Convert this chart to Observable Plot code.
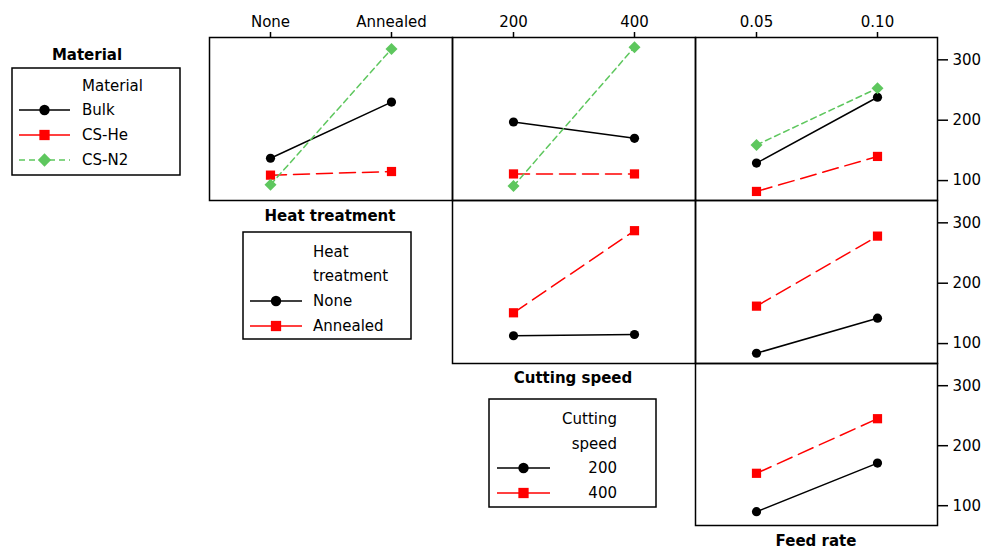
<!DOCTYPE html>
<html><head><meta charset="utf-8">
<script src="https://cdn.jsdelivr.net/npm/d3@7"></script>
<script src="https://cdn.jsdelivr.net/npm/@observablehq/plot@0.6"></script>
<style>
body{margin:0;background:#fff;}
#chart{position:relative;width:994px;height:549px;font-family:"DejaVu Sans",sans-serif;overflow:hidden;}
#chart > svg{position:absolute;}
</style></head><body><div id="chart"></div>
<script>
// ---- data (mean response) ----
const factorNames = ["Heat treatment", "Cutting speed", "Feed rate"];
const heatLevels = ["None", "Annealed"];
const speedLevels = ["200", "400"];
const feedLevels = ["0.05", "0.10"];
const materials = ["Bulk", "CS-He", "CS-N2"];
const yTicks = [100, 200, 300];

// rows: Bulk, CS-He, CS-N2
const materialByHeat  = [[137, 230], [109, 115], [93, 318]];
const materialBySpeed = [[197, 170], [111, 111], [91, 321]];
const materialByFeed  = [[129, 238], [82, 140], [159, 253]];
// rows: None, Annealed
const heatBySpeed = [[113, 115], [151, 287]];
const heatByFeed  = [[84, 142], [162, 278]];
// rows: 200, 400
const speedByFeed = [[90, 171], [154, 245]];

// ---- styles ----
const styles = [
  {color: "#000000", dash: null, legendDash: null, symbol: "circle", r: 4.6, d3sym: d3.symbolCircle},
  {color: "#ff0000", dash: "16,7", legendDash: null, symbol: "square", r: 5.2, d3sym: d3.symbolSquare},
  {color: "#5ec75e", dash: "6,4", legendDash: "6,4", symbol: "diamond2", r: 5.4, d3sym: d3.symbolDiamond2}
];
const colX = [209, 452, 695], colW = [243, 243, 242];
const rowY = [37, 200, 363], rowH = [163, 163, 162];
const yDomain = [67, 337];
const chart = document.getElementById("chart");

function panel(r, c, levels, names, values) {
  const data = names.flatMap((s, i) => levels.map((lv, j) => ({series: s, idx: i, level: lv, value: values[i][j]})));
  const ml = 2, mb = 2, mt = r === 0 ? 42 : 2, mr = c === 2 ? 60 : 2;
  const marks = [Plot.frame({stroke: "#000", strokeWidth: 1.5})];
  names.forEach((s, i) => {
    const st = styles[i];
    const d = data.filter(e => e.idx === i);
    marks.push(Plot.line(d, {x: "level", y: "value", stroke: st.color, strokeWidth: 1.5, strokeDasharray: st.dash}));
    marks.push(Plot.dot(d, {x: "level", y: "value", symbol: st.symbol, fill: st.color, stroke: "none", r: st.r}));
  });
  if (r === 0) marks.push(Plot.axisX({anchor: "top", tickSize: 6, tickPadding: 5, label: null, strokeWidth: 1.5, fontSize: 15}));
  if (c === 2) marks.push(Plot.axisY({anchor: "right", ticks: yTicks, tickSize: 10, tickPadding: 5, label: null, strokeWidth: 1.5, fontSize: 15}));
  const svg = Plot.plot({
    width: colW[c] + ml + mr, height: rowH[r] + mt + mb,
    marginLeft: ml, marginRight: mr, marginTop: mt, marginBottom: mb,
    x: {type: "point", domain: levels, padding: 0.5, axis: null},
    y: {domain: yDomain, axis: null},
    style: {fontFamily: "DejaVu Sans", fontSize: "15px", background: "transparent", overflow: "visible", color: "#000"},
    marks
  });
  svg.style.left = (colX[c] - ml) + "px";
  svg.style.top = (rowY[r] - mt) + "px";
  chart.appendChild(svg);
}

panel(0, 0, heatLevels, materials, materialByHeat);
panel(0, 1, speedLevels, materials, materialBySpeed);
panel(0, 2, feedLevels, materials, materialByFeed);
panel(1, 1, speedLevels, heatLevels, heatBySpeed);
panel(1, 2, feedLevels, heatLevels, heatByFeed);
panel(2, 2, feedLevels, speedLevels, speedByFeed);

// ---- overlay: factor labels and legends ----
const ov = d3.create("svg").attr("width", 994).attr("height", 549)
  .style("left", "0px").style("top", "0px").style("overflow", "visible")
  .attr("font-family", "DejaVu Sans");

function bold(x, y, t) {
  ov.append("text").attr("x", x).attr("y", y).attr("text-anchor", "middle")
    .attr("dominant-baseline", "central").attr("font-weight", "bold").attr("font-size", 15).text(t);
}
bold(87, 55, "Material");
bold(330, 216, factorNames[0]);
bold(573, 378, factorNames[1]);
bold(816, 541, factorNames[2]);

function legend(box, header, headerAnchor, textX, rows, names, symX0, symX1) {
  ov.append("rect").attr("x", box[0]).attr("y", box[1]).attr("width", box[2] - box[0]).attr("height", box[3] - box[1])
    .attr("fill", "none").attr("stroke", "#000").attr("stroke-width", 1.5);
  header.forEach((h) => {
    ov.append("text").attr("x", textX).attr("y", h.y).attr("text-anchor", headerAnchor)
      .attr("dominant-baseline", "central").attr("font-size", 15).text(h.t);
  });
  names.forEach((n, i) => {
    const st = styles[i], y = rows[i];
    ov.append("line").attr("x1", symX0).attr("x2", symX1).attr("y1", y).attr("y2", y)
      .attr("stroke", st.color).attr("stroke-width", 1.5).attr("stroke-dasharray", st.legendDash);
    ov.append("path").attr("transform", `translate(${(symX0 + symX1) / 2},${y})`)
      .attr("d", d3.symbol().type(st.d3sym).size(Math.PI * (st.r + 0.6) * (st.r + 0.6))()).attr("fill", st.color);
    ov.append("text").attr("x", textX).attr("y", y).attr("text-anchor", headerAnchor)
      .attr("dominant-baseline", "central").attr("font-size", 15).text(n);
  });
}
legend([12, 68, 180, 175], [{t: "Material", y: 86}], "start", 82, [110, 135, 160], materials, 19, 70);
legend([243, 232, 411, 339], [{t: "Heat", y: 252}, {t: "treatment", y: 276}], "start", 313, [301, 326], heatLevels, 250, 302);
legend([489, 399, 656, 507], [{t: "Cutting", y: 419}, {t: "speed", y: 444}], "end", 617, [468, 493], speedLevels, 497, 550);

chart.appendChild(ov.node());
</script></body></html>
